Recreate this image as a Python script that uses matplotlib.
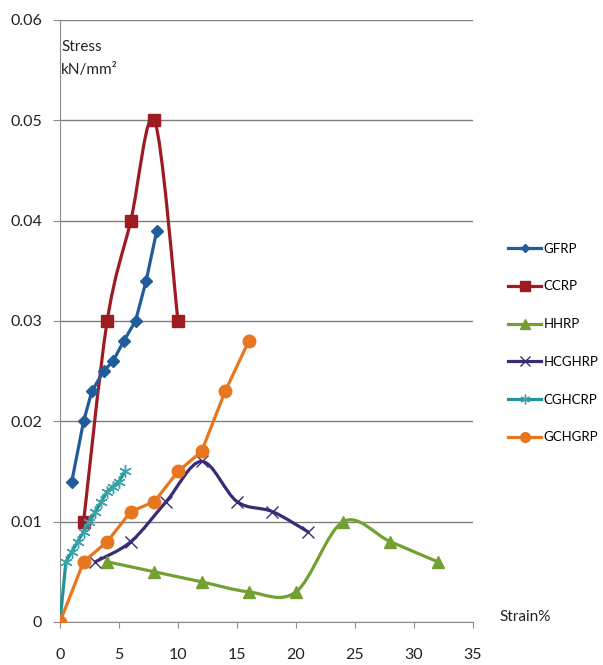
import matplotlib
matplotlib.use("Agg")
import matplotlib.pyplot as plt
from matplotlib.path import Path
from matplotlib.patches import PathPatch
from matplotlib.lines import Line2D

plt.rcParams['font.family'] = ['Lato', 'DejaVu Sans']

# data
gfrp_x = [1, 2, 2.7, 3.7, 4.5, 5.4, 6.4, 7.3, 8.2]
gfrp_y = [0.014, 0.020, 0.023, 0.025, 0.026, 0.028, 0.030, 0.034, 0.039]

ccrp_x = [2, 4, 6, 8, 10]
ccrp_y = [0.010, 0.030, 0.040, 0.050, 0.030]

hhrp_x = [4, 8, 12, 16, 20, 24, 28, 32]
hhrp_y = [0.006, 0.005, 0.004, 0.003, 0.003, 0.010, 0.008, 0.006]

hcghrp_x = [3, 6, 9, 12, 15, 18, 21]
hcghrp_y = [0.006, 0.008, 0.012, 0.016, 0.012, 0.011, 0.009]

cghcrp_x = [0, 0.5, 1, 1.5, 2, 2.5, 3, 3.5, 4, 4.5, 5, 5.5]
cghcrp_y = [0, 0.006, 0.007, 0.008, 0.009, 0.010, 0.011, 0.012, 0.013, 0.0135, 0.014, 0.015]

gchgrp_x = [0, 2, 4, 6, 8, 10, 12, 14, 16]
gchgrp_y = [0, 0.006, 0.008, 0.011, 0.012, 0.015, 0.017, 0.023, 0.028]


def smooth_path(xs, ys):
    # Excel-style smoothed line: cubic bezier through the points
    pts = list(zip(xs, ys))
    verts = [pts[0]]
    codes = [Path.MOVETO]
    n = len(pts)
    for i in range(n - 1):
        p0 = pts[i - 1] if i > 0 else pts[i]
        p1 = pts[i]
        p2 = pts[i + 1]
        p3 = pts[i + 2] if i + 2 < n else pts[i + 1]
        c1 = (p1[0] + (p2[0] - p0[0]) / 6, p1[1] + (p2[1] - p0[1]) / 6)
        c2 = (p2[0] - (p3[0] - p1[0]) / 6, p2[1] - (p3[1] - p1[1]) / 6)
        verts += [c1, c2, p2]
        codes += [Path.CURVE4] * 3
    return Path(verts, codes)


fig = plt.figure(figsize=(6.03, 6.65), dpi=100)
ax = fig.add_axes([0.0995, 0.0647, 0.6849, 0.9053])

series = [
    ('GFRP', gfrp_x, gfrp_y, '#215C9C', '#215C9C', 'D', 6, False),
    ('CCRP', ccrp_x, ccrp_y, '#9E1B22', '#9E1B22', 's', 9, True),
    ('HHRP', hhrp_x, hhrp_y, '#73A030', '#73A030', '^', 9, True),
    ('HCGHRP', hcghrp_x, hcghrp_y, '#3B2A74', '#3B2A74', 'x', 9, True),
    ('CGHCRP', cghcrp_x, cghcrp_y, '#1F9598', '#3AA3AC', (6, 2, 0), 9, False),
    ('GCHGRP', gchgrp_x, gchgrp_y, '#E8761E', '#E8761E', 'o', 9, False),
]

handles = []
for name, xs, ys, lc, mc, mk, ms, smooth in series:
    if smooth:
        ax.add_patch(PathPatch(smooth_path(xs, ys), fill=False, edgecolor=lc,
                               lw=2.3, zorder=3, capstyle='round', joinstyle='round'))
        ax.plot(xs, ys, linestyle='none', marker=mk, ms=ms, color=mc,
                mec=mc, mew=1.0, zorder=4)
    else:
        ax.plot(xs, ys, color=lc, lw=2.3, marker=mk, ms=ms, mfc=mc, mec=mc,
                mew=1.0, zorder=4)
    handles.append(Line2D([], [], color=lc, lw=2.3, marker=mk, ms=ms - 2,
                          mfc=mc, mec=mc, mew=1.0, label=name))

ax.set_xlim(0, 35)
ax.set_ylim(0, 0.06)
ax.set_xticks(range(0, 36, 5))
ax.set_yticks([0, 0.01, 0.02, 0.03, 0.04, 0.05, 0.06])
ax.set_yticklabels(['0', '0.01', '0.02', '0.03', '0.04', '0.05', '0.06'])
ax.yaxis.grid(True, color='#7F7F7F', lw=1.0)
ax.set_axisbelow(True)
for s in ['top', 'right']:
    ax.spines[s].set_visible(False)
ax.spines['left'].set_color('#8C8C8C')
ax.spines['bottom'].set_color('#8C8C8C')
ax.tick_params(axis='both', colors='#8C8C8C', labelcolor='#222222',
               labelsize=11.5)
ax.tick_params(axis='x', length=4, pad=15)
ax.tick_params(axis='y', length=5, pad=8)

ax.text(0.003, 0.966, 'Stress\nkN/mm²', transform=ax.transAxes, fontsize=11,
        color='#222222', va='top', ha='left', linespacing=1.75)
fig.text(0.828, 0.072, 'Strain%', fontsize=11, color='#222222', ha='left', va='center')

fig.legend(handles=handles, loc='upper left', bbox_to_anchor=(0.834, 0.643),
           frameon=False, fontsize=9.5, labelspacing=1.95, handlelength=2.5,
           handletextpad=0.2, borderaxespad=0)

fig.savefig('out.png', dpi=100)
